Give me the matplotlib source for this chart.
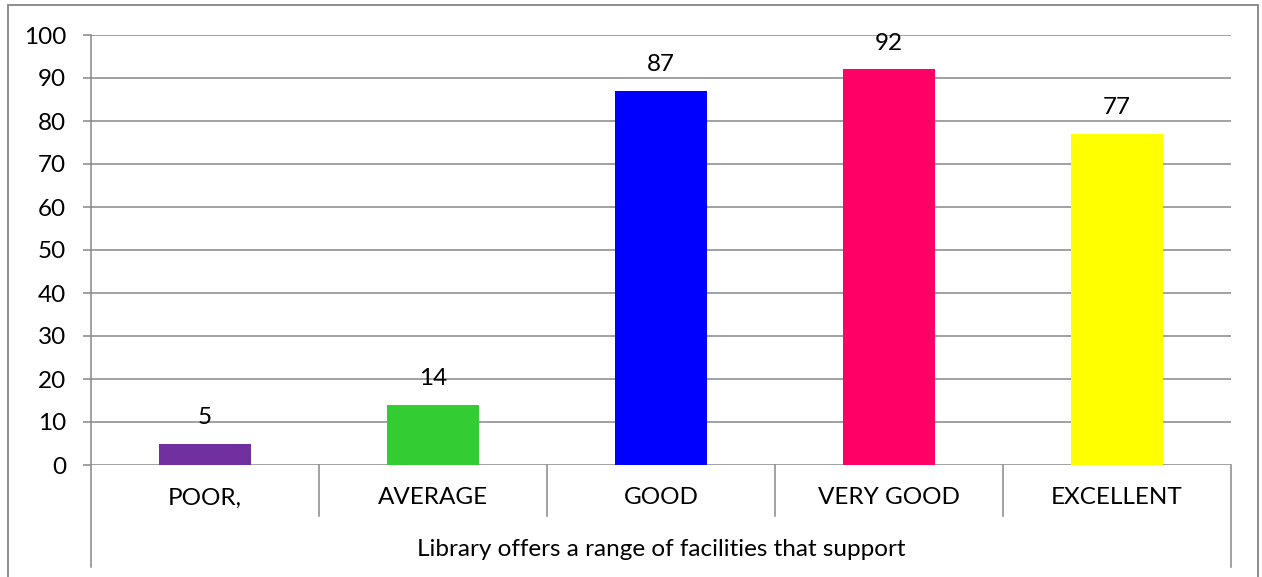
import matplotlib.pyplot as plt
from matplotlib.patches import Rectangle

plt.rcParams['font.family'] = ['Lato', 'DejaVu Sans']

# === Data ===
categories = ["POOR,", "AVERAGE", "GOOD", "VERY GOOD", "EXCELLENT"]
values = [5, 14, 87, 92, 77]
bar_colors = ["#7030A0", "#33CC33", "#0000FF", "#FF0066", "#FFFF00"]
group_label = "Library offers a range of facilities that support"
y_ticks = list(range(0, 101, 10))

grid_gray = "#878787"
fs = 17.5

fig = plt.figure(figsize=(12.62, 5.77), dpi=100)
ax = fig.add_axes([91 / 1262, 1 - 465 / 577, (1231 - 91) / 1262, (465 - 35) / 577])

x = list(range(len(categories)))
ax.bar(x, values, width=0.4, color=bar_colors, zorder=3)

for xi, v in zip(x, values):
    ax.annotate(str(v), (xi, v), xytext=(0, 14), textcoords="offset points",
                ha="center", va="baseline", fontsize=fs, color="black")

# === Axis formatting ===
ax.set_xlim(-0.5, len(categories) - 0.5)
ax.set_ylim(0, 100)
ax.set_yticks(y_ticks)
ax.set_yticklabels([str(t) for t in y_ticks], fontsize=fs)
ax.tick_params(axis='y', length=6, width=1.1, color=grid_gray, pad=12)
ax.set_xticks([])
ax.yaxis.grid(True, color=grid_gray, linewidth=1.1, zorder=0)
ax.set_axisbelow(True)
for s in ax.spines.values():
    s.set_visible(False)

# === Multi-level category axis ===
trans = ax.get_xaxis_transform()
for xi, name in zip(x, categories):
    ax.text(xi, -33 / 430, name, transform=trans, ha="center", va="center", fontsize=fs)
ax.text((len(categories) - 1) / 2, -85 / 430, group_label, transform=trans,
        ha="center", va="center", fontsize=fs)

for b in [i + 0.5 for i in range(len(categories) - 1)]:
    ax.plot([b, b], [0, -51 / 430], transform=trans, color=grid_gray,
            linewidth=1.1, clip_on=False)
for b in [-0.5, len(categories) - 0.5]:
    top = 1 if b < 0 else 0
    ax.plot([b, b], [top, -102 / 430], transform=trans, color=grid_gray,
            linewidth=1.1, clip_on=False)

# === Outer chart border ===
fig.patches.append(Rectangle((8 / 1262, -0.1), (1258 - 8) / 1262, 1.1 - 5 / 577,
                             transform=fig.transFigure, fill=False,
                             edgecolor="#8c8c8c", linewidth=1.4))

fig.savefig("out.png", dpi=100)
